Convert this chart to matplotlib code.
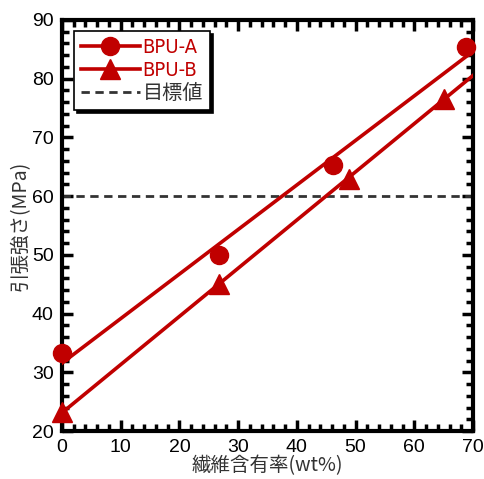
import numpy as np
import matplotlib.pyplot as plt
from matplotlib.ticker import MultipleLocator

# data
fiber_a = [0, 26.8, 46.2, 68.8]
strength_a = [33.2, 49.9, 65.3, 85.4]
fiber_b = [0, 26.8, 48.8, 65.0]
strength_b = [23.2, 45.0, 63.0, 76.6]
target = 60

red = '#c00000'
jp = ['Noto Sans CJK JP', 'DejaVu Sans']

plt.rcParams['font.family'] = ['Liberation Sans', 'DejaVu Sans']

fig = plt.figure(figsize=(4.85, 4.79), dpi=100)
ax = fig.add_axes([62 / 485, 48 / 479, 411 / 485, 411 / 479])

# regression lines
ka, ba = np.polyfit(fiber_a, strength_a, 1)
kb, bb = np.polyfit(fiber_b, strength_b, 1)
xa = np.array([0, max(fiber_a)])
xb = np.array([0, 70])

ax.plot(xa, ka * xa + ba, color=red, lw=2.6, zorder=3)
ax.plot(xb, kb * xb + bb, color=red, lw=2.6, zorder=3)
ax.plot(fiber_a, strength_a, 'o', color=red, ms=13, clip_on=False, zorder=4)
ax.plot(fiber_b, strength_b, '^', color=red, ms=14, clip_on=False, zorder=4)
ax.axhline(target, color='#333333', lw=2, ls=(0, (3, 2)), zorder=2)

# legend proxies
la, = ax.plot([], [], '-o', color=red, lw=2.6, ms=13, label='BPU-A')
lb, = ax.plot([], [], '-^', color=red, lw=2.6, ms=14, label='BPU-B')
lt, = ax.plot([], [], color='#333333', lw=2, ls=(0, (3, 2)), label='目標値')
leg = ax.legend(handles=[la, lb, lt], loc='upper left', bbox_to_anchor=(0.005, 0.998),
                fancybox=False, shadow={'color': 'black', 'alpha': 1}, framealpha=1,
                edgecolor='black', handlelength=2.9, handletextpad=0.15,
                borderpad=0.35, labelspacing=0.2,
                prop={'family': ['DejaVu Sans', 'Noto Sans CJK JP'],
                      'stretch': 'condensed', 'size': 14.5})
leg.get_frame().set_linewidth(1.2)
for t, c in zip(leg.get_texts(), [red, red, '#333333']):
    t.set_color(c)

ax.set_xlim(0, 70)
ax.set_ylim(20, 90)
ax.xaxis.set_major_locator(MultipleLocator(10))
ax.xaxis.set_minor_locator(MultipleLocator(2))
ax.yaxis.set_major_locator(MultipleLocator(10))
ax.yaxis.set_minor_locator(MultipleLocator(2))
ax.tick_params(which='both', direction='in', top=True, right=True, width=2.5,
               labelsize=14, pad=6)
ax.tick_params(which='major', length=8)
ax.tick_params(which='minor', length=5)
for s in ax.spines.values():
    s.set_linewidth(3)

ax.set_xlabel('繊維含有率(wt%)', family=jp, fontsize=14, color='#333333', labelpad=-1)
ax.set_ylabel('引張強さ(MPa)', family=jp, fontsize=14, color='#333333', labelpad=1)

fig.savefig('out.png', dpi=100)
